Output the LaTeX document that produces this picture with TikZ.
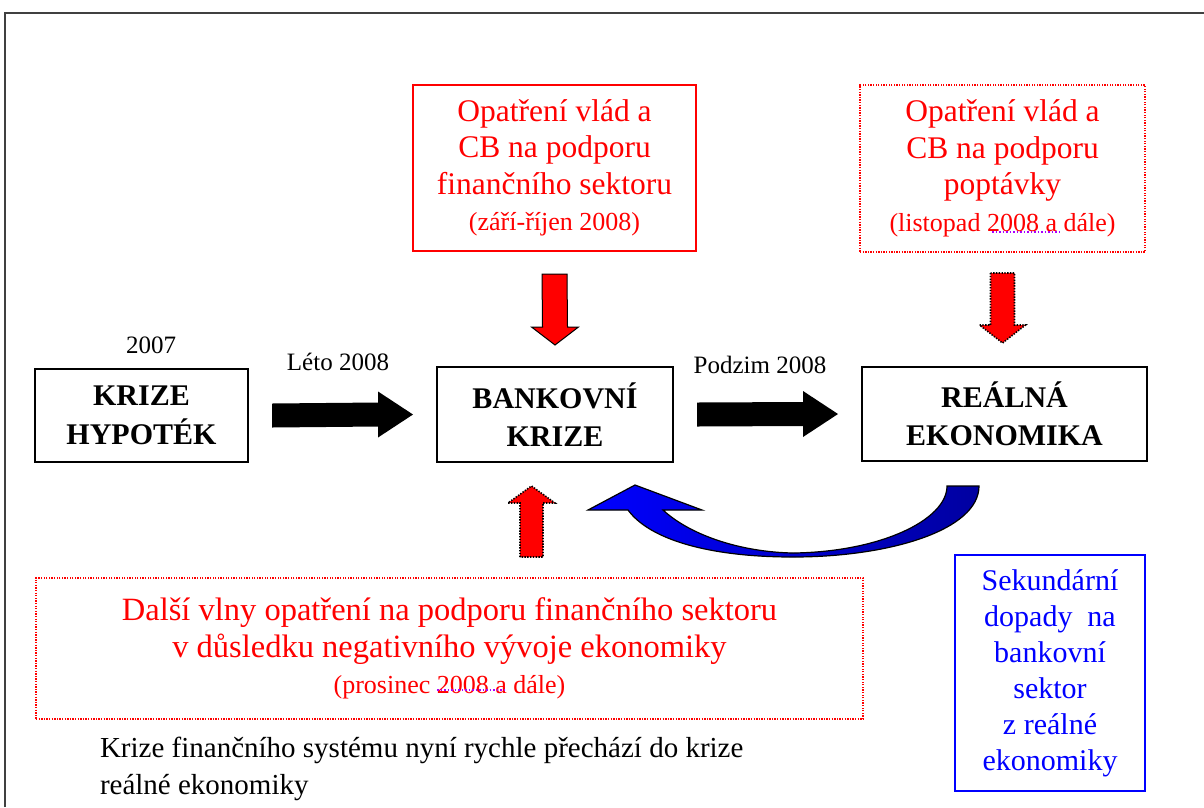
\documentclass[tikz,border=0pt]{standalone}
\usepackage{fontspec}
\setmainfont{Liberation Serif}
\usetikzlibrary{calc}
\newcommand{\datefont}{\fontsize{26}{36.5}\selectfont}
\begin{document}
\begin{tikzpicture}[x=1pt,y=-1pt,
  every node/.style={inner sep=0pt,outer sep=0pt},
  mainbox/.style={draw=black,line width=1.5pt,align=center,font=\fontsize{30}{38.5}\selectfont\bfseries},
  redsolid/.style={draw=red,line width=1.5pt,text=red,align=center,font=\fontsize{31.5}{36.5}\selectfont},
  reddot/.style={draw=red,line width=2pt,dash pattern=on 1.3pt off 1.3pt,text=red,align=center,font=\fontsize{31.5}{36.5}\selectfont},
  bluebox/.style={draw=blue,line width=1.5pt,text=blue,align=center,font=\fontsize{30}{36}\selectfont},
  lbl/.style={font=\fontsize{25}{28}\selectfont},
  blkarrow/.style={fill=black},
  redarrow/.style={fill=red,draw=black,line width=1pt,line join=miter},
  redarrowdot/.style={fill=red,draw=black,line width=1.6pt,dash pattern=on 1.4pt off 1.4pt},
  spell/.style={draw={rgb,255:red,170;green,0;blue,255},line width=1.2pt,dash pattern=on 1.5pt off 2pt}
]
\useasboundingbox (0,0) rectangle (1204,807);
% frame
\draw[line width=2pt,black!75] (5,807) -- (5,13) -- (1204,13);

% main boxes
\node[mainbox,minimum width=213pt,minimum height=93pt] (kh) at (141.5,415.5) {KRIZE\\HYPOTÉK};
\node[mainbox,minimum width=236pt,minimum height=95pt] (bk) at (555,414.5) {BANKOVNÍ\\KRIZE};
\node[mainbox,minimum width=285pt,minimum height=94pt] (re) at (1004.5,414) {REÁLNÁ\\EKONOMIKA};

% top boxes
\node[redsolid,minimum width=283pt,minimum height=166pt] (op1) at (554.5,168) {Opatření vlád a\\CB na podporu\\finančního sektoru\\{\datefont (září-říjen 2008)}};
\node[reddot,minimum width=285pt,minimum height=167pt] (op2) at (1002.5,168.5) {Opatření vlád a\\CB na podporu\\poptávky\\{\datefont (listopad 2008 a dále)}};

% bottom boxes
\node[reddot,minimum width=827pt,minimum height=141pt,font=\fontsize{32.5}{36.5}\selectfont] (dv) at (449.5,648.5) {Další vlny opatření na podporu finančního sektoru\\v důsledku negativního vývoje ekonomiky\\{\datefont (prosinec 2008 a dále)}};
\node[bluebox,minimum width=190pt,minimum height=236pt] (sd) at (1050,673) {Sekundární\\dopady\ \ na\\bankovní\\sektor\\z reálné\\ekonomiky};

% labels
\node[lbl,anchor=base] (y07) at (151,353) {2007};
\node[lbl,anchor=base] (leto) at (338,370) {Léto 2008};
\node[lbl,anchor=base] (podzim) at (760,373) {Podzim 2008};

% caption
\node[anchor=base west,align=left,font=\fontsize{29}{37}\selectfont] (cap) at (100,794) {Krize finančního systému nyní rychle přechází do krize\\reálné ekonomiky};

% black block arrows
\coordinate (a1s) at ($(kh.east)+(24,0)$);
\coordinate (a1e) at ($(bk.west)+(-24,0)$);
\fill[blkarrow] ($(a1s)+(0,-12)$) -- ($(a1e)+(-35,-12)$) -- ($(a1e)+(-35,-23)$) -- (a1e) -- ($(a1e)+(-35,23)$) -- ($(a1e)+(-35,12)$) -- ($(a1s)+(0,12)$) -- cycle;
\coordinate (a2s) at ($(bk.east)+(24,0)$);
\coordinate (a2e) at ($(re.west)+(-24,0)$);
\fill[blkarrow] ($(a2s)+(0,-12)$) -- ($(a2e)+(-35,-12)$) -- ($(a2e)+(-35,-23)$) -- (a2e) -- ($(a2e)+(-35,23)$) -- ($(a2e)+(-35,12)$) -- ($(a2s)+(0,12)$) -- cycle;

% red down arrow (solid outline)
\coordinate (d1s) at ($(op1.south)+(0,23)$);
\coordinate (d1e) at ($(bk.north)+(0,-22)$);
\path[redarrow] ($(d1s)+(-12.5,0)$) -- ($(d1e)+(-12.5,-18)$) -- ($(d1e)+(-23.5,-18)$) -- (d1e) -- ($(d1e)+(23.5,-18)$) -- ($(d1e)+(12.5,-18)$) -- ($(d1s)+(12.5,0)$) -- cycle;

% red down arrow (dotted outline)
\coordinate (d2s) at ($(op2.south)+(0,21)$);
\coordinate (d2e) at ($(re.north)+(-2,-24)$);
\path[redarrowdot] ($(d2s)+(-12,0)$) -- ($(d2e)+(-12,-18)$) -- ($(d2e)+(-23,-18)$) -- (d2e) -- ($(d2e)+(23,-18)$) -- ($(d2e)+(12,-18)$) -- ($(d2s)+(12,0)$) -- cycle;

% red up arrow (dotted outline)
\coordinate (u1s) at (531.5,557);
\coordinate (u1e) at (531.5,486);
\path[redarrowdot] ($(u1s)+(-11.5,0)$) -- ($(u1e)+(-11.5,17)$) -- ($(u1e)+(-23.5,17)$) -- (u1e) -- ($(u1e)+(23.5,17)$) -- ($(u1e)+(11.5,17)$) -- ($(u1s)+(11.5,0)$) -- cycle;

% blue curved arrow
\coordinate (bt1) at (979,486);
\coordinate (bt2) at (947,486);
\coordinate (btip) at (635,485);
\path[draw=black,line width=1.2pt,left color=blue,right color={rgb,255:red,0;green,0;blue,160}]
  (bt1) .. controls (979,530) and (890,557) .. (793,557)
  .. controls (710,557) and (650,540) .. (628,510)
  -- (588,510) -- (btip) -- (702,510) -- (663,510)
  .. controls (690,535) and (740,552) .. (793,553)
  .. controls (880,552) and (947,520) .. (bt2) -- cycle;

% spell-check underlines
\draw[spell] (992,232) -- (1060,232);
\draw[spell] (437,690) -- (504,690);
\end{tikzpicture}
\end{document}
